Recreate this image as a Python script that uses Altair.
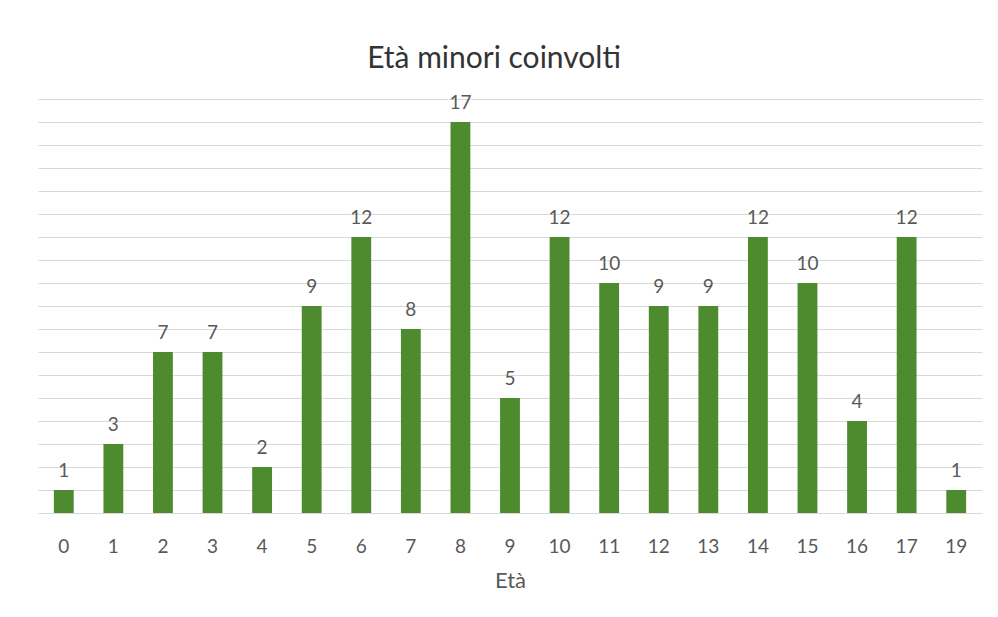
import altair as alt
import pandas as pd

ages = ["0", "1", "2", "3", "4", "5", "6", "7", "8", "9", "10", "11", "12", "13", "14", "15", "16", "17", "19"]
counts = [1, 3, 7, 7, 2, 9, 12, 8, 17, 5, 12, 10, 9, 9, 12, 10, 4, 12, 1]

df = pd.DataFrame({"Età": ages, "n": counts})

x = alt.X("Età:N", sort=ages, title="Età",
          scale=alt.Scale(paddingInner=0.6, paddingOuter=0.32),
          axis=alt.Axis(labelAngle=0, labelFontSize=19, labelColor="#595959",
                        titleFontSize=22, titleColor="#595959", titleFontWeight="normal",
                        ticks=False, domain=False, labelPadding=24, titlePadding=14))
y = alt.Y("n:Q", scale=alt.Scale(domain=[0, 18], nice=False),
          axis=alt.Axis(title=None, labels=False, ticks=False, domain=False,
                        values=list(range(0, 19)), gridColor="#d9d9d9", gridWidth=1.2))

bars = alt.Chart(df).mark_bar(color="#4E8B2E").encode(x=x, y=y)
text = alt.Chart(df).mark_text(baseline="bottom", dy=-9, fontSize=19, color="#595959",
                               font="Lato").encode(x=x, y=y, text="n:Q")

chart = (bars + text).properties(
    width=944, height=414,
    title=alt.TitleParams("Età minori coinvolti", fontSize=30, fontWeight="normal",
                          color="#333333", font="Lato", offset=20, dx=-16),
    padding={"left": 30, "top": 91, "right": 8, "bottom": 90},
    autosize=alt.AutoSizeParams(type="none"),
).configure(font="Lato").configure_view(stroke=None).configure_axis(labelFont="Lato", titleFont="Lato")

chart.save("out.html", embed_options={"renderer": "svg", "actions": False})
